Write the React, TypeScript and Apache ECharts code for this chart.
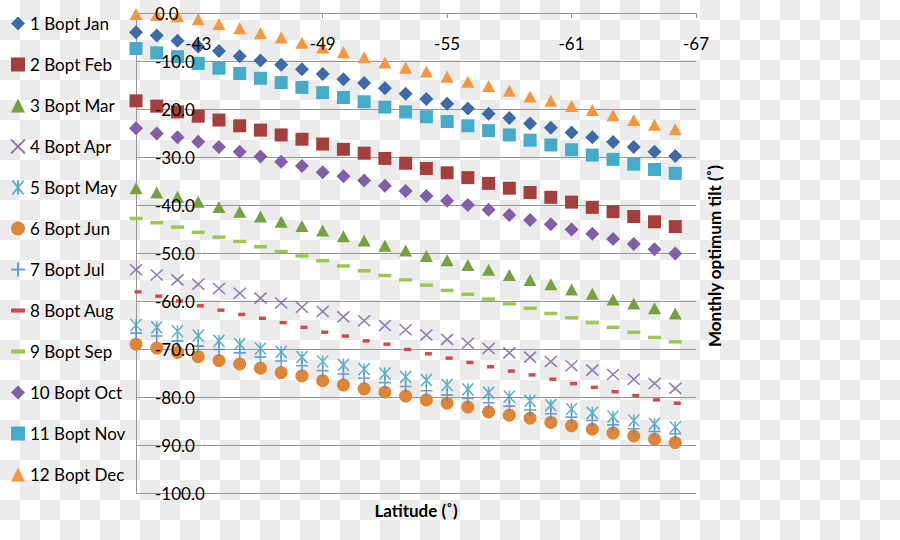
import React, { useEffect, useRef } from "react";
import * as echarts from "echarts";

const latitudes = [-40, -41, -42, -43, -44, -45, -46, -47, -48, -49, -50, -51, -52, -53, -54, -55, -56, -57, -58, -59, -60, -61, -62, -63, -64, -65, -66];

const janTilt = [-4.0, -4.7, -5.8, -7.0, -7.9, -9.0, -9.9, -10.8, -11.7, -12.7, -13.8, -14.6, -15.7, -16.8, -17.9, -18.9, -19.9, -21.0, -21.9, -23.0, -23.9, -24.9, -25.9, -26.9, -27.9, -28.9, -29.8];
const febTilt = [-18.3, -19.4, -20.6, -21.5, -22.3, -23.5, -24.4, -25.4, -26.3, -27.3, -28.4, -29.2, -30.3, -31.3, -32.4, -33.3, -34.3, -35.5, -36.5, -37.4, -38.4, -39.4, -40.5, -41.4, -42.4, -43.5, -44.5];
const marTilt = [-36.5, -37.4, -38.3, -39.3, -40.4, -41.4, -42.4, -43.5, -44.4, -45.3, -46.5, -47.4, -48.5, -49.5, -50.6, -51.5, -52.5, -53.5, -54.6, -55.6, -56.5, -57.6, -58.5, -59.7, -60.5, -61.5, -62.6];
const aprTilt = [-53.5, -54.6, -55.6, -56.5, -57.4, -58.4, -59.4, -60.4, -61.3, -62.2, -63.3, -64.1, -65.1, -66.0, -67.1, -68.0, -68.8, -69.9, -70.8, -71.7, -72.6, -73.5, -74.4, -75.3, -76.3, -77.2, -78.2];
const mayTilt = [-65.0, -65.5, -66.3, -67.2, -68.3, -69.0, -69.9, -70.6, -71.7, -72.6, -73.3, -74.2, -75.1, -75.8, -76.5, -77.5, -78.4, -79.1, -79.9, -80.8, -81.7, -82.5, -83.3, -84.1, -84.9, -85.6, -86.3];
const junTilt = [-69.0, -69.8, -70.7, -71.6, -72.4, -73.1, -74.0, -74.9, -75.6, -76.6, -77.5, -78.3, -79.0, -79.8, -80.6, -81.3, -82.1, -83.1, -83.8, -84.4, -85.3, -86.0, -86.7, -87.5, -88.1, -88.8, -89.5];
const julTilt = [-66.7, -67.3, -68.3, -69.4, -70.1, -70.8, -71.7, -72.5, -73.5, -74.5, -75.2, -76.1, -77.0, -77.8, -78.7, -79.6, -80.3, -81.2, -81.9, -82.7, -83.5, -84.2, -84.9, -85.8, -86.6, -87.2, -87.7];
const augTilt = [-58.1, -59.0, -60.0, -61.0, -61.9, -62.8, -63.6, -64.5, -65.5, -66.5, -67.3, -68.3, -69.0, -70.1, -71.0, -71.9, -72.8, -73.7, -74.6, -75.4, -76.3, -77.2, -78.0, -78.9, -79.7, -80.6, -81.3];
const sepTilt = [-42.8, -43.7, -44.6, -45.7, -46.7, -47.6, -48.7, -49.7, -50.6, -51.6, -52.7, -53.7, -54.7, -55.6, -56.7, -57.8, -58.6, -59.6, -60.6, -61.5, -62.6, -63.5, -64.5, -65.5, -66.5, -67.6, -68.5];
const octTilt = [-24.0, -25.1, -25.9, -26.8, -27.9, -28.9, -29.9, -31.0, -31.9, -33.2, -34.0, -34.9, -36.0, -37.1, -38.1, -39.1, -40.0, -41.0, -42.1, -43.1, -44.0, -45.1, -46.0, -47.1, -48.1, -49.2, -50.1];
const novTilt = [-7.4, -8.3, -9.1, -10.5, -11.5, -12.6, -13.6, -14.5, -15.5, -16.6, -17.6, -18.5, -19.6, -20.6, -21.6, -22.6, -23.5, -24.5, -25.4, -26.5, -27.5, -28.5, -29.6, -30.5, -31.5, -32.6, -33.4];
const decTilt = [-0.2, -0.4, -0.7, -1.3, -2.3, -3.2, -4.2, -5.1, -6.2, -7.2, -8.2, -9.2, -10.3, -11.4, -12.2, -13.3, -14.3, -15.2, -16.2, -17.4, -18.3, -19.4, -20.2, -21.3, -22.3, -23.3, -24.2];

const seriesNames = ["1 Bopt Jan", "2 Bopt Feb", "3 Bopt Mar", "4 Bopt Apr", "5 Bopt May", "6 Bopt Jun", "7 Bopt Jul", "8 Bopt Aug", "9 Bopt Sep", "10 Bopt Oct", "11 Bopt Nov", "12 Bopt Dec"];
const seriesValues = [janTilt, febTilt, marTilt, aprTilt, mayTilt, junTilt, julTilt, augTilt, sepTilt, octTilt, novTilt, decTilt];

const xTitle = "Latitude (˚)";
const yTitle = "Monthly optimum tilt (˚)";

const FONT = "Lato, 'Noto Sans', sans-serif";

const X_PATH = "path://M0,0L10,10M10,0L0,10";
const STAR_PATH = "path://M1,0L9,10M9,0L1,10M5,0L5,10";
const PLUS_PATH = "path://M5,0L5,10M0,5L10,5";
const DASH_PATH = "path://M0,0L10,0L10,3L0,3Z";

type Style = {
  color: string;
  symbol: string;
  size: number | number[];
  stroke?: boolean;
  offset?: number[];
  legendIcon?: string;
};

const styles: Style[] = [
  { color: "#3E6AA7", symbol: "diamond", size: [14, 14] },
  { color: "#A3403D", symbol: "rect", size: [13, 13] },
  { color: "#77A040", symbol: "triangle", size: [13, 12] },
  { color: "#7C5FA3", symbol: X_PATH, size: [12, 11], stroke: true },
  { color: "#3CA0B8", symbol: STAR_PATH, size: [11, 12], stroke: true },
  { color: "#DE8537", symbol: "circle", size: 13 },
  { color: "#4A86CC", symbol: PLUS_PATH, size: [12, 12], stroke: true },
  { color: "#D04B4B", symbol: "rect", size: [7, 3.5], offset: [2, 0], legendIcon: DASH_PATH },
  { color: "#9BC853", symbol: "rect", size: [13, 3.5], legendIcon: DASH_PATH },
  { color: "#7F60A8", symbol: "diamond", size: [14, 14] },
  { color: "#46ABC8", symbol: "rect", size: [13, 13] },
  { color: "#F7963F", symbol: "triangle", size: [13, 12] },
];

function fmtY(v: number): string {
  const s = Math.abs(v) < 1e-9 ? "0.0" : v.toFixed(1);
  return s;
}

export default function App() {
  const ref = useRef<HTMLDivElement>(null);

  useEffect(() => {
    if (!ref.current) return;
    const chart = echarts.init(ref.current, null, { renderer: "svg" });

    const series = seriesNames.map((name, i) => {
      const st = styles[i];
      return {
        name,
        type: "scatter",
        xAxisIndex: 0,
        yAxisIndex: 0,
        symbol: st.symbol,
        symbolSize: st.size,
        symbolOffset: st.offset || [0, 0],
        symbolKeepAspect: false,
        itemStyle: st.stroke
          ? { color: "rgba(0,0,0,0)", borderColor: st.color, borderWidth: 1.6 }
          : { color: st.color, opacity: 1 },
        emphasis: { disabled: true },
        silent: true,
        z: 2,
        data: latitudes.map((lat, j) => [lat, seriesValues[i][j]]),
      };
    });

    const legendData = seriesNames.map((name, i) => {
      const st = styles[i];
      const item: any = { name };
      if (st.legendIcon) item.icon = st.legendIcon;
      return item;
    });

    const axisColor = "#969696";

    chart.setOption({
      animation: false,
      backgroundColor: "transparent",
      grid: { left: 136, right: 204, top: 13, bottom: 47, containLabel: false },
      legend: {
        orient: "vertical",
        left: 10,
        top: 15,
        padding: 0,
        itemWidth: 14,
        itemHeight: 14,
        itemGap: 24,
        selectedMode: false,
        data: legendData,
        textStyle: { fontFamily: FONT, fontSize: 17, color: "#000", lineHeight: 16 },
      },
      xAxis: [
        {
          type: "value",
          min: -67,
          max: -40,
          interval: 6,
          inverse: true,
          position: "top",
          axisLine: { show: true, onZero: false, lineStyle: { color: axisColor, width: 1 } },
          axisTick: { show: true, inside: true, length: 5, lineStyle: { color: axisColor } },
          axisLabel: { show: false },
          splitLine: { show: false },
          z: 0,
        },
        {
          type: "value",
          min: -67,
          max: -40,
          interval: 6,
          inverse: true,
          position: "top",
          axisLine: { show: false, onZero: false },
          axisTick: { show: false },
          axisLabel: {
            show: true,
            inside: true,
            margin: 22,
            showMaxLabel: false,
            color: "#000",
            fontFamily: FONT,
            fontSize: 17,
          },
          splitLine: { show: false },
          z: 10,
        },
      ],
      yAxis: [
        {
          type: "value",
          min: -100,
          max: 0,
          interval: 10,
          position: "left",
          axisLine: { show: true, onZero: false, lineStyle: { color: axisColor, width: 1 } },
          axisTick: { show: false },
          axisLabel: { show: false },
          splitLine: { show: true, lineStyle: { color: axisColor, width: 1 } },
          z: 0,
        },
        {
          type: "value",
          min: -100,
          max: 0,
          interval: 10,
          position: "left",
          axisLine: { show: false, onZero: false },
          axisTick: { show: false },
          axisLabel: {
            show: true,
            inside: true,
            margin: 19,
            color: "#000",
            fontFamily: FONT,
            fontSize: 17,
            formatter: (v: number) => fmtY(v),
          },
          splitLine: { show: false },
          z: 10,
        },
      ],
      graphic: [
        {
          type: "text",
          x: 416,
          y: 510,
          z: 20,
          style: {
            text: xTitle,
            fontFamily: FONT,
            fontSize: 17,
            fontWeight: "bold",
            fill: "#000",
            textAlign: "center",
            textVerticalAlign: "middle",
          },
        },
        {
          type: "text",
          x: 714,
          y: 256,
          rotation: Math.PI / 2,
          z: 20,
          style: {
            text: yTitle,
            fontFamily: FONT,
            fontSize: 17,
            fontWeight: "bold",
            fill: "#000",
            textAlign: "center",
            textVerticalAlign: "middle",
          },
        },
      ],
      series,
    });

    return () => {
      chart.dispose();
    };
  }, []);

  return (
    <div
      style={{
        position: "absolute",
        left: 0,
        top: 0,
        width: 900,
        height: 540,
        backgroundImage:
          "conic-gradient(#ebebeb 0 25%, #ffffff 0 50%, #ebebeb 0 75%, #ffffff 0)",
        backgroundSize: "40px 40px",
        backgroundPosition: "0 0",
      }}
    >
      <div ref={ref} style={{ width: 900, height: 540 }} />
    </div>
  );
}
